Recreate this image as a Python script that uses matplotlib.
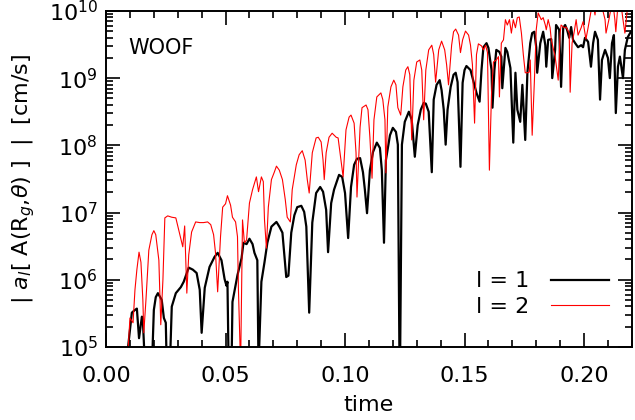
import numpy as np
import matplotlib
matplotlib.use("Agg")
import matplotlib.pyplot as plt
from matplotlib.ticker import MultipleLocator, LogLocator, NullFormatter

# l=1 mode: time and log10 of amplitude [cm/s]
t_l1 = [0.0083, 0.0108, 0.0121, 0.0129, 0.0138, 0.0150, 0.0154, 0.0163, 0.0192, 0.0200,
        0.0208, 0.0217, 0.0233, 0.0242, 0.0250, 0.0254, 0.0267, 0.0275, 0.0292, 0.0313,
        0.0325, 0.0346, 0.0363, 0.0379, 0.0392, 0.0400, 0.0413, 0.0433, 0.0454, 0.0467,
        0.0483, 0.0496, 0.0504, 0.0508, 0.0513, 0.0525, 0.0529, 0.0550, 0.0567, 0.0575,
        0.0588, 0.0600, 0.0613, 0.0621, 0.0633, 0.0638, 0.0650, 0.0663, 0.0675, 0.0692,
        0.0704, 0.0713, 0.0725, 0.0738, 0.0746, 0.0754, 0.0763, 0.0775, 0.0788, 0.0800,
        0.0817, 0.0829, 0.0838, 0.0850, 0.0863, 0.0879, 0.0896, 0.0908, 0.0921, 0.0929,
        0.0942, 0.0954, 0.0975, 0.0988, 0.1000, 0.1013, 0.1025, 0.1038, 0.1050, 0.1063,
        0.1075, 0.1083, 0.1092, 0.1104, 0.1117, 0.1133, 0.1146, 0.1154, 0.1163, 0.1171,
        0.1188, 0.1200, 0.1213, 0.1221, 0.1229, 0.1238, 0.1250, 0.1267, 0.1279, 0.1292,
        0.1304, 0.1317, 0.1329, 0.1338, 0.1350, 0.1363, 0.1371, 0.1383, 0.1396, 0.1404,
        0.1413, 0.1421, 0.1429, 0.1442, 0.1454, 0.1463, 0.1471, 0.1483, 0.1492, 0.1500,
        0.1508, 0.1525, 0.1538, 0.1550, 0.1563, 0.1571, 0.1579, 0.1592, 0.1600, 0.1613,
        0.1617, 0.1625, 0.1633, 0.1646, 0.1654, 0.1658, 0.1671, 0.1679, 0.1692, 0.1704,
        0.1713, 0.1721, 0.1733, 0.1742, 0.1754, 0.1763, 0.1775, 0.1783, 0.1792, 0.1800,
        0.1804, 0.1817, 0.1829, 0.1838, 0.1842, 0.1850, 0.1863, 0.1867, 0.1879, 0.1883,
        0.1896, 0.1904, 0.1913, 0.1921, 0.1929, 0.1938, 0.1946, 0.1954, 0.1963, 0.1975,
        0.1988, 0.1996, 0.2004, 0.2017, 0.2029, 0.2038, 0.2046, 0.2058, 0.2067, 0.2075,
        0.2088, 0.2100, 0.2108, 0.2117, 0.2125, 0.2133, 0.2142, 0.2150, 0.2163, 0.2171,
        0.2183, 0.2196]
log_l1 = [4.70, 5.51, 5.55, 5.57, 5.13, 5.45, 5.40, 4.70, 4.70, 5.55,
          5.74, 5.80, 5.70, 5.43, 5.36, 4.70, 4.70, 5.60, 5.80, 5.89,
          5.97, 6.18, 6.15, 6.10, 5.85, 5.21, 5.88, 6.19, 6.34, 6.40,
          6.29, 6.01, 5.91, 5.97, 4.70, 4.70, 5.67, 6.07, 6.32, 6.55,
          6.53, 6.61, 6.53, 6.40, 6.29, 4.70, 5.97, 6.26, 6.55, 6.79,
          6.83, 6.86, 6.79, 6.70, 6.37, 6.04, 6.06, 6.70, 6.96, 7.08,
          7.10, 7.01, 6.79, 5.51, 6.85, 7.29, 7.38, 7.31, 7.04, 6.41,
          7.14, 7.34, 7.56, 7.53, 7.29, 6.62, 7.38, 7.71, 7.80, 7.81,
          7.60, 7.34, 6.99, 7.63, 7.90, 8.04, 7.96, 7.63, 6.55, 7.78,
          8.15, 8.26, 8.20, 8.01, 4.20, 8.01, 8.35, 8.50, 8.38, 7.83,
          8.30, 8.53, 8.63, 8.62, 8.50, 7.60, 8.68, 8.90, 8.97, 8.82,
          8.53, 8.01, 8.53, 8.87, 9.05, 9.08, 8.94, 7.68, 8.93, 9.12,
          9.18, 9.12, 8.94, 8.78, 8.65, 9.12, 9.46, 9.52, 9.45, 9.12,
          8.56, 9.12, 9.42, 9.39, 9.32, 8.85, 9.45, 9.39, 9.15, 8.04,
          9.08, 8.53, 8.35, 8.90, 8.08, 9.08, 9.52, 9.67, 9.69, 9.46,
          9.08, 9.52, 9.69, 9.49, 9.17, 9.57, 9.58, 9.00, 9.42, 9.79,
          9.72, 8.87, 9.75, 9.79, 9.72, 9.60, 9.76, 9.57, 9.52, 9.46,
          9.49, 9.46, 9.60, 9.54, 9.17, 9.52, 9.69, 9.57, 8.68, 9.27,
          9.42, 9.30, 9.00, 9.52, 9.64, 8.48, 9.17, 9.32, 9.00, 9.42,
          9.61, 9.69]

# l=2 mode
t_l2 = [0.0088, 0.0100, 0.0113, 0.0121, 0.0129, 0.0138, 0.0146, 0.0154, 0.0158, 0.0167,
        0.0179, 0.0192, 0.0200, 0.0208, 0.0221, 0.0229, 0.0238, 0.0246, 0.0258, 0.0275,
        0.0292, 0.0304, 0.0321, 0.0329, 0.0338, 0.0346, 0.0358, 0.0375, 0.0392, 0.0408,
        0.0425, 0.0438, 0.0450, 0.0458, 0.0467, 0.0479, 0.0488, 0.0500, 0.0508, 0.0521,
        0.0529, 0.0542, 0.0550, 0.0554, 0.0563, 0.0571, 0.0579, 0.0588, 0.0600, 0.0613,
        0.0629, 0.0638, 0.0650, 0.0658, 0.0663, 0.0671, 0.0679, 0.0692, 0.0704, 0.0713,
        0.0725, 0.0738, 0.0750, 0.0758, 0.0771, 0.0779, 0.0796, 0.0808, 0.0821, 0.0833,
        0.0842, 0.0850, 0.0863, 0.0879, 0.0888, 0.0900, 0.0908, 0.0913, 0.0921, 0.0933,
        0.0946, 0.0963, 0.0971, 0.0983, 0.0992, 0.1004, 0.1017, 0.1025, 0.1038, 0.1046,
        0.1050, 0.1063, 0.1071, 0.1088, 0.1096, 0.1104, 0.1113, 0.1121, 0.1133, 0.1150,
        0.1158, 0.1167, 0.1171, 0.1179, 0.1192, 0.1204, 0.1213, 0.1221, 0.1233, 0.1242,
        0.1254, 0.1263, 0.1271, 0.1279, 0.1288, 0.1300, 0.1313, 0.1321, 0.1329, 0.1338,
        0.1350, 0.1363, 0.1371, 0.1379, 0.1392, 0.1404, 0.1417, 0.1425, 0.1433, 0.1446,
        0.1454, 0.1463, 0.1475, 0.1483, 0.1492, 0.1504, 0.1517, 0.1525, 0.1533, 0.1542,
        0.1550, 0.1558, 0.1571, 0.1579, 0.1588, 0.1596, 0.1604, 0.1613, 0.1621, 0.1633,
        0.1642, 0.1646, 0.1654, 0.1663, 0.1671, 0.1679, 0.1688, 0.1696, 0.1704, 0.1713,
        0.1721, 0.1729, 0.1738, 0.1746, 0.1754, 0.1763, 0.1771, 0.1775, 0.1783, 0.1792,
        0.1800, 0.1808, 0.1821, 0.1829, 0.1838, 0.1842, 0.1850, 0.1858, 0.1863, 0.1879,
        0.1892, 0.1900, 0.1904, 0.1917, 0.1925, 0.1938, 0.1942, 0.1950, 0.1958, 0.1967,
        0.1975, 0.1988, 0.1996, 0.2004, 0.2008, 0.2017, 0.2029, 0.2038, 0.2046, 0.2050,
        0.2063, 0.2071, 0.2088, 0.2092, 0.2104, 0.2113, 0.2121, 0.2129, 0.2133, 0.2142,
        0.2154, 0.2163, 0.2171, 0.2183, 0.2196]
log_l2 = [4.70, 5.43, 5.36, 5.85, 6.15, 6.41, 6.26, 5.70, 5.21, 5.70,
          6.44, 6.67, 6.73, 6.67, 6.29, 5.33, 6.00, 6.92, 6.95, 6.93,
          6.92, 6.74, 6.49, 6.80, 5.80, 6.37, 6.71, 6.86, 6.85, 6.85,
          6.86, 6.82, 6.67, 6.40, 5.82, 6.64, 7.08, 7.13, 7.25, 7.11,
          6.93, 6.86, 6.64, 5.85, 4.70, 6.89, 6.55, 6.59, 7.14, 7.34,
          7.53, 7.31, 7.53, 7.46, 6.89, 6.47, 7.08, 7.49, 7.60, 7.69,
          7.63, 7.49, 7.19, 6.93, 6.86, 7.34, 7.71, 7.86, 7.92, 7.78,
          7.49, 7.29, 7.89, 8.11, 8.12, 8.05, 7.78, 7.49, 7.89, 8.12,
          8.18, 8.12, 8.11, 7.78, 7.53, 8.23, 8.42, 8.45, 8.33, 7.89,
          7.23, 8.27, 8.56, 8.60, 8.53, 8.12, 7.51, 8.38, 8.72, 8.78,
          8.68, 8.38, 7.59, 8.57, 8.87, 8.97, 8.90, 8.56, 8.45, 8.87,
          9.12, 9.17, 9.05, 8.08, 8.97, 9.24, 9.27, 9.12, 8.38, 9.12,
          9.42, 9.49, 9.35, 8.94, 9.42, 9.55, 9.42, 9.20, 8.90, 9.49,
          9.69, 9.73, 9.64, 9.38, 9.57, 9.70, 9.64, 9.49, 9.20, 8.33,
          9.35, 9.51, 9.48, 9.42, 9.49, 9.38, 7.63, 8.78, 9.24, 9.27,
          9.32, 8.72, 9.52, 9.57, 9.87, 9.79, 9.87, 9.67, 9.87, 9.75,
          9.90, 9.91, 9.67, 9.35, 9.08, 9.08, 9.09, 9.27, 8.15, 8.93,
          9.72, 9.97, 9.87, 9.90, 9.79, 9.72, 9.87, 9.75, 9.57, 9.32,
          8.97, 9.67, 9.79, 9.75, 9.76, 9.67, 8.79, 9.52, 9.67, 9.87,
          9.64, 9.75, 9.84, 9.67, 9.58, 9.75, 9.99, 10.09, 9.94, 10.09,
          10.01, 10.12, 9.87, 9.67, 9.87, 10.04, 10.12, 9.87, 9.69, 10.09,
          10.12, 9.87, 9.67, 10.09, 10.15]

amp_l1 = 10.0 ** np.array(log_l1)
amp_l2 = 10.0 ** np.array(log_l2)

plt.rcParams['font.family'] = ['DejaVu Sans']
plt.rcParams['font.size'] = 16
plt.rcParams['mathtext.fontset'] = 'dejavusans'

fig = plt.figure(figsize=(6.35, 4.2), dpi=100)
ax = fig.add_axes([0.167, 0.174, 0.828, 0.800])

ax.plot(t_l1, amp_l1, color='black', lw=1.6, label='l = 1')
ax.plot(t_l2, amp_l2, color='red', lw=0.8, label='l = 2')

ax.set_yscale('log')
ax.set_xlim(0, 0.22)
ax.set_ylim(1e5, 1e10)

ax.xaxis.set_major_locator(MultipleLocator(0.05))
ax.xaxis.set_minor_locator(MultipleLocator(0.01))
ax.xaxis.set_major_formatter(matplotlib.ticker.FormatStrFormatter('%.2f'))
ax.yaxis.set_major_locator(LogLocator(base=10, numticks=10))
ax.yaxis.set_minor_locator(LogLocator(base=10, subs=np.arange(2, 10), numticks=20))
ax.yaxis.set_minor_formatter(NullFormatter())

ax.tick_params(which='both', direction='in', top=True, right=True, width=1.2)
ax.tick_params(which='major', length=10)
ax.tick_params(axis='x', which='major', pad=14)
ax.tick_params(axis='y', which='major', pad=6)
ax.tick_params(which='minor', length=5)
for s in ax.spines.values():
    s.set_linewidth(1.4)

ax.set_xlabel('time', labelpad=6)
ax.set_ylabel(r'| $a_l$[ A(R$_g$,$\theta$) ]  |  [cm/s]', labelpad=8)

ax.text(0.042, 0.89, 'WOOF', transform=ax.transAxes, fontsize=15, va='center')

ax.legend(loc='lower right', bbox_to_anchor=(0.995, 0.03), frameon=False,
          markerfirst=False, handlelength=2.6, handletextpad=1.0, labelspacing=0.25)

fig.savefig('out.png', dpi=100)
